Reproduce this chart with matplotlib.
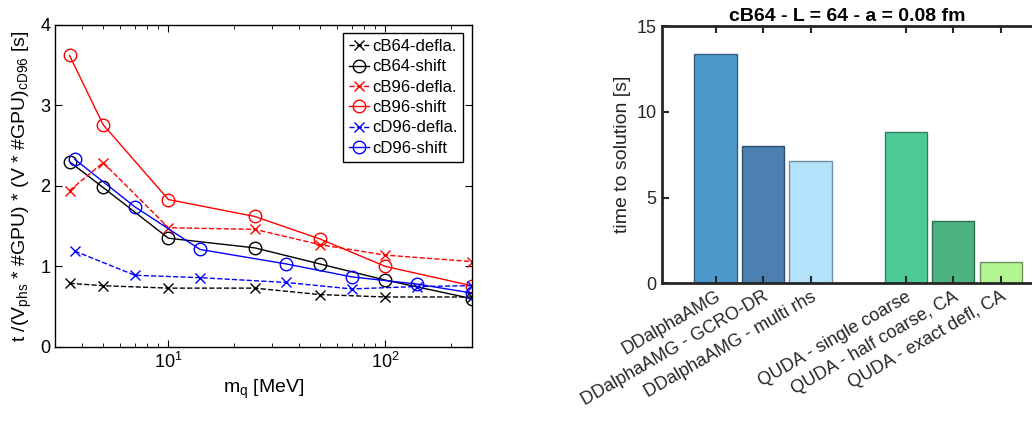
import matplotlib.pyplot as plt
import numpy as np

plt.rcParams['font.family'] = ['Liberation Sans', 'DejaVu Sans']
plt.rcParams['mathtext.fontset'] = 'custom'
plt.rcParams['mathtext.rm'] = 'Liberation Sans'
plt.rcParams['mathtext.it'] = 'Liberation Sans'

# ---------------- left panel data ----------------
mass_b = [3.5, 5, 10, 25, 50, 100, 250]
mass_d = [3.7, 7, 14, 35, 70, 140, 250]
cb64_defl = [0.79, 0.76, 0.73, 0.73, 0.65, 0.62, 0.62]
cb64_shift = [2.30, 1.98, 1.35, 1.23, 1.03, 0.83, 0.60]
cb96_defl = [1.94, 2.29, 1.48, 1.46, 1.27, 1.14, 1.06]
cb96_shift = [3.62, 2.76, 1.83, 1.62, 1.34, 1.00, 0.76]
cd96_defl = [1.19, 0.89, 0.86, 0.80, 0.72, 0.75, 0.76]
cd96_shift = [2.33, 1.74, 1.21, 1.03, 0.87, 0.78, 0.67]

# ---------------- right panel data ----------------
solvers = ['DDalphaAMG', 'DDalphaAMG - GCRO-DR', 'DDalphaAMG - multi rhs',
           'QUDA - single coarse', 'QUDA - half coarse, CA', 'QUDA - exact defl, CA']
bar_pos = [1, 2, 3, 5, 6, 7]
times = [13.35, 8.0, 7.13, 8.8, 3.63, 1.22]
bar_colors = ['#4d99cb', '#4b80b1', '#b3e3fa', '#4dca96', '#4db380', '#b3f590']

fig = plt.figure(figsize=(10.32, 4.21), dpi=100)

# ---------------- left: line plot ----------------
ax1 = fig.add_axes([0.0533, 0.176, 0.4037, 0.765])
ax1.plot(mass_b, cb64_defl, 'k--x', lw=1, ms=7, label='cB64-defla.')
ax1.plot(mass_b, cb64_shift, 'k-o', lw=1, ms=9, mfc='none', label='cB64-shift')
ax1.plot(mass_b, cb96_defl, 'r--x', lw=1, ms=7, label='cB96-defla.')
ax1.plot(mass_b, cb96_shift, 'r-o', lw=1, ms=9, mfc='none', label='cB96-shift')
ax1.plot(mass_d, cd96_defl, 'b--x', lw=1, ms=7, label='cD96-defla.')
ax1.plot(mass_d, cd96_shift, 'b-o', lw=1, ms=9, mfc='none', label='cD96-shift')

ax1.set_xscale('log')
ax1.set_xlim(3, 250)
ax1.set_ylim(0, 4)
ax1.set_yticks([0, 1, 2, 3, 4])
ax1.set_xticks([10, 100])
ax1.set_xticklabels(['$10^1$', '$10^2$'])
ax1.tick_params(which='both', direction='in', top=True, right=True, labelsize=13)
ax1.tick_params(which='major', length=5)
ax1.tick_params(which='minor', length=3)
for s in ax1.spines.values():
    s.set_linewidth(1)
ax1.set_xlabel('m$_{\\rm q}$ [MeV]', fontsize=14)
ax1.set_ylabel('t /(V$_{\\rm phs}$ * #GPU) * (V * #GPU)$_{\\rm cD96}$ [s]', fontsize=14)

leg = ax1.legend(loc='upper right', fontsize=12, handlelength=1.2, handletextpad=0.2,
                 borderpad=0.35, labelspacing=0.32, fancybox=False, framealpha=1,
                 borderaxespad=0.5)
leg.get_frame().set_edgecolor('black')
leg.get_frame().set_linewidth(1)

# ---------------- right: bar chart ----------------
ax2 = fig.add_axes([0.641, 0.327, 0.36, 0.611])
edge = ['#2f5f80', '#2e4f70', '#6f8f9f', '#2f7f5f', '#2f6f4f', '#6f8f5f']
ax2.bar(bar_pos, times, width=0.89, color=bar_colors, edgecolor=edge, linewidth=1)
ax2.set_xlim(-0.137, 7.68)
ax2.set_ylim(0, 15)
ax2.set_yticks([0, 5, 10, 15])
ax2.set_xticks(bar_pos)
ax2.set_xticklabels(solvers, rotation=30, ha='right', rotation_mode='anchor', fontsize=13,
                    color='#262626')
ax2.tick_params(direction='in', top=True, length=5, width=1.5, labelsize=13,
                colors='#262626', labelcolor='#262626')
for s in ax2.spines.values():
    s.set_linewidth(2)
    s.set_color('#262626')
ax2.set_ylabel('time to solution [s]', fontsize=14, color='#262626')
ax2.set_title('cB64 - L = 64 - a = 0.08 fm', fontsize=14, fontweight='bold', pad=4)

fig.savefig('out.png', dpi=100)
